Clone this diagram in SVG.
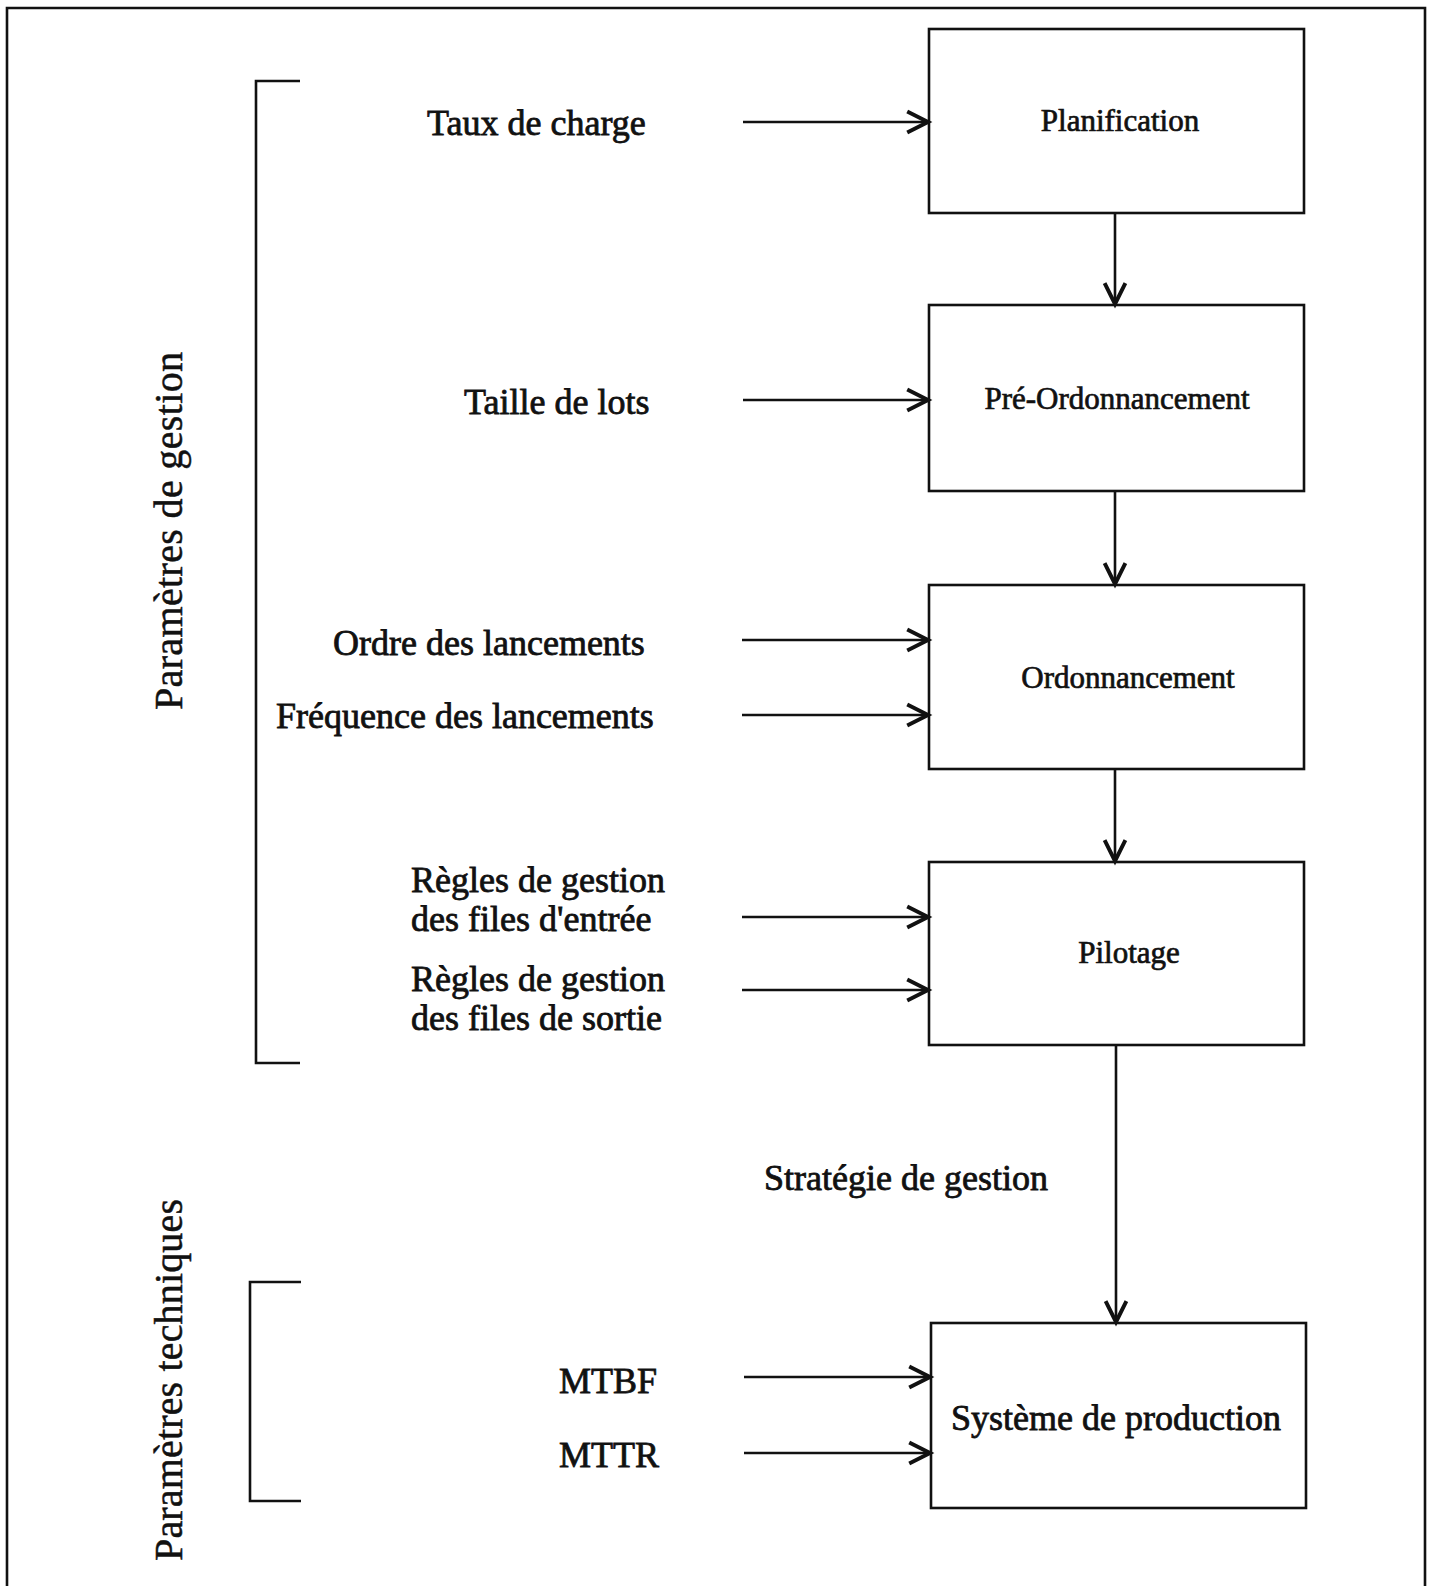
<svg xmlns="http://www.w3.org/2000/svg" width="1430" height="1586" viewBox="0 0 1430 1586">
<style>
.box{fill:#fff;stroke:#111;stroke-width:2.6}
.ln{stroke:#111;stroke-width:2.6;fill:none}
.lbl{font-family:"Liberation Serif","Times New Roman",serif;font-size:36px;fill:#111;stroke:#111;stroke-width:0.8}
.blbl{font-family:"Liberation Serif","Times New Roman",serif;font-size:31px;fill:#111;stroke:#111;stroke-width:0.7}
.vlbl{font-family:"Liberation Serif","Times New Roman",serif;font-size:40px;fill:#111;stroke:#111;stroke-width:0.5}
</style>
<defs>
<marker id="ah" markerUnits="userSpaceOnUse" markerWidth="30" markerHeight="30" viewBox="-22 -12 26 24" refX="0" refY="0" orient="auto">
<path d="M -18 -9 L 0 0 L -18 9" fill="none" stroke="#111" stroke-width="3.4"/>
</marker>
</defs>
<rect width="1430" height="1586" fill="#fff"/>
<g id="frame">
<path class="ln" d="M 7 1600 L 7 8 L 1425 8 L 1425 1600"/>
</g>
<g id="brackets">
<path class="ln" d="M 300 81 L 256 81 L 256 1063 L 300 1063"/>
<path class="ln" d="M 301 1282 L 250 1282 L 250 1501 L 301 1501"/>
</g>
<g id="group-labels">
<text class="vlbl" transform="translate(182,531) rotate(-90)" text-anchor="middle" textLength="358">Paramètres de gestion</text>
<text class="vlbl" transform="translate(182,1380) rotate(-90)" text-anchor="middle" textLength="362">Paramètres techniques</text>
</g>
<g id="node-planification">
<rect class="box" x="929" y="29" width="375" height="184"/>
<text class="blbl" x="1120" y="131" text-anchor="middle">Planification</text>
</g>
<g id="node-preordonnancement">
<rect class="box" x="929" y="305" width="375" height="186"/>
<text class="blbl" x="1117" y="409" text-anchor="middle">Pré-Ordonnancement</text>
</g>
<g id="node-ordonnancement">
<rect class="box" x="929" y="585" width="375" height="184"/>
<text class="blbl" x="1128" y="688" text-anchor="middle">Ordonnancement</text>
</g>
<g id="node-pilotage">
<rect class="box" x="929" y="862" width="375" height="183"/>
<text class="blbl" x="1129" y="963" text-anchor="middle">Pilotage</text>
</g>
<g id="node-systeme">
<rect class="box" x="931" y="1323" width="375" height="185"/>
<text class="lbl" x="1116" y="1430" text-anchor="middle">Système de production</text>
</g>
<g id="inputs">
<text class="lbl" x="427" y="135">Taux de charge</text>
<text class="lbl" x="464" y="414">Taille de lots</text>
<text class="lbl" x="333" y="655">Ordre des lancements</text>
<text class="lbl" x="276" y="728">Fréquence des lancements</text>
<text class="lbl" x="411" y="892">Règles de gestion</text>
<text class="lbl" x="411" y="931">des files d'entrée</text>
<text class="lbl" x="411" y="991">Règles de gestion</text>
<text class="lbl" x="411" y="1030">des files de sortie</text>
<text class="lbl" x="764" y="1190">Stratégie de gestion</text>
<text class="lbl" x="559" y="1393">MTBF</text>
<text class="lbl" x="559" y="1467">MTTR</text>
</g>
<g id="connectors">
<line class="ln" x1="743" y1="122" x2="928" y2="122" marker-end="url(#ah)"/>
<line class="ln" x1="743" y1="400" x2="928" y2="400" marker-end="url(#ah)"/>
<line class="ln" x1="742" y1="640" x2="928" y2="640" marker-end="url(#ah)"/>
<line class="ln" x1="742" y1="715" x2="928" y2="715" marker-end="url(#ah)"/>
<line class="ln" x1="742" y1="917" x2="928" y2="917" marker-end="url(#ah)"/>
<line class="ln" x1="742" y1="990" x2="928" y2="990" marker-end="url(#ah)"/>
<line class="ln" x1="744" y1="1377" x2="930" y2="1377" marker-end="url(#ah)"/>
<line class="ln" x1="744" y1="1453" x2="930" y2="1453" marker-end="url(#ah)"/>
<line class="ln" x1="1115" y1="213" x2="1115" y2="304" marker-end="url(#ah)"/>
<line class="ln" x1="1115" y1="491" x2="1115" y2="584" marker-end="url(#ah)"/>
<line class="ln" x1="1115" y1="769" x2="1115" y2="861" marker-end="url(#ah)"/>
<line class="ln" x1="1116" y1="1045" x2="1116" y2="1322" marker-end="url(#ah)"/>
</g>
</svg>
